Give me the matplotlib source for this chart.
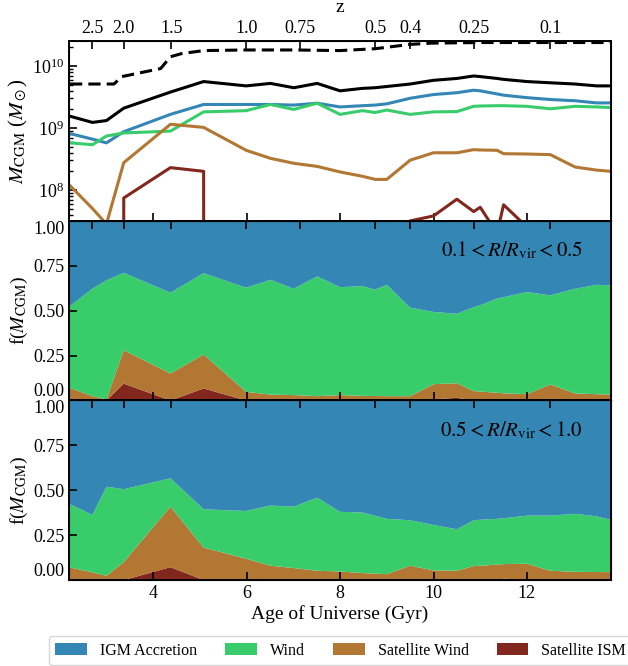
import matplotlib
matplotlib.use('Agg')
import matplotlib.pyplot as plt
from matplotlib.patches import Patch
import numpy as np

plt.rcParams['font.family'] = 'serif'
plt.rcParams['font.serif'] = ['Liberation Serif', 'DejaVu Serif']
plt.rcParams['mathtext.fontset'] = 'stix'

# snapshot ages (Gyr)
age = [2.22, 2.70, 3.00, 3.37, 4.37, 5.08, 5.99, 6.51, 7.01, 7.51, 8.00, 8.48, 8.75,
       9.00, 9.50, 10.00, 10.50, 10.86, 11.00, 11.36, 11.50, 12.00, 12.50, 13.03, 13.49, 13.80]

# top panel: log10 CGM mass (Msun), 0 = no gas
logm_total = [9.19, 9.09, 9.12, 9.32, 9.58, 9.75, 9.68, 9.72, 9.65, 9.72, 9.60, 9.64, 9.65,
              9.67, 9.71, 9.77, 9.80, 9.84, 9.83, 9.80, 9.785, 9.75, 9.73, 9.71, 9.68, 9.68]
logm_igm = [8.91, 8.82, 8.76, 8.94, 9.22, 9.38, 9.38, 9.38, 9.37, 9.40, 9.34, 9.36, 9.37,
            9.39, 9.48, 9.54, 9.57, 9.61, 9.60, 9.55, 9.53, 9.49, 9.46, 9.44, 9.405, 9.405]
logm_wind = [8.76, 8.73, 8.87, 8.92, 8.95, 9.26, 9.28, 9.38, 9.30, 9.40, 9.22, 9.28, 9.25,
             9.29, 9.22, 9.26, 9.265, 9.35, 9.355, 9.36, 9.36, 9.35, 9.31, 9.35, 9.34, 9.33]
logm_satwind = [8.07, 7.70, 7.45, 8.44, 9.06, 9.01, 8.64, 8.51, 8.43, 8.38, 8.29, 8.22, 8.17,
                8.17, 8.48, 8.60, 8.60, 8.65, 8.645, 8.64, 8.585, 8.58, 8.57, 8.37, 8.32, 8.30]
logm_satism = [0, 0, 0, 7.87, 8.36, 8.30, 0, 0, 0, 0, 0, 0, 0,
               0, 7.50, 7.58, 7.85, 7.65, 7.72, 7.30, 7.76, 7.40, 0, 0, 0, 0]

# dashed reference line
age_halo = [2.22, 3.16, 3.33, 4.16, 4.37, 4.60, 5.08, 6.00, 7.00, 8.00, 8.75, 9.50, 9.95, 11.0, 12.0, 13.8]
logm_halo = [9.71, 9.71, 9.83, 9.96, 10.15, 10.20, 10.25, 10.26, 10.26, 10.25, 10.28, 10.35, 10.37,
             10.38, 10.38, 10.38]

# fractions, 0.1 < R/Rvir < 0.5
in_ism = [0, 0, 0, 0.094, 0, 0.067, 0, 0, 0, 0, 0, 0, 0,
          0, 0, 0.006, 0.015, 0, 0, 0, 0, 0, 0, 0, 0, 0]
in_satwind = [0.070, 0.024, 0.006, 0.186, 0.150, 0.189, 0.048, 0.033, 0.030, 0.024, 0.030, 0.026, 0.025,
              0.024, 0.024, 0.085, 0.081, 0.052, 0.050, 0.043, 0.040, 0.035, 0.089, 0.039, 0.035, 0.033]
in_wind = [0.456, 0.598, 0.663, 0.431, 0.450, 0.453, 0.580, 0.639, 0.592, 0.667, 0.601, 0.611, 0.592,
           0.620, 0.493, 0.402, 0.387, 0.468, 0.480, 0.524, 0.535, 0.569, 0.496, 0.583, 0.609, 0.608]
in_igm = [0.474, 0.378, 0.331, 0.289, 0.400, 0.291, 0.372, 0.328, 0.378, 0.309, 0.369, 0.363, 0.383,
          0.356, 0.483, 0.507, 0.517, 0.480, 0.470, 0.433, 0.425, 0.396, 0.415, 0.378, 0.356, 0.359]

# fractions, 0.5 < R/Rvir < 1.0
out_ism = [0, 0, 0, 0, 0.072, 0, 0, 0, 0, 0, 0, 0, 0,
           0, 0, 0, 0, 0, 0, 0, 0.008, 0, 0, 0, 0, 0]
out_satwind = [0.070, 0.043, 0.024, 0.100, 0.337, 0.181, 0.119, 0.080, 0.067, 0.052, 0.048, 0.039, 0.036,
               0.033, 0.080, 0.054, 0.052, 0.078, 0.080, 0.086, 0.081, 0.091, 0.052, 0.046, 0.045, 0.044]
out_wind = [0.352, 0.320, 0.496, 0.406, 0.158, 0.213, 0.266, 0.335, 0.342, 0.407, 0.332, 0.337, 0.322,
            0.308, 0.253, 0.253, 0.231, 0.255, 0.256, 0.255, 0.255, 0.268, 0.307, 0.323, 0.310, 0.291]
out_igm = [0.578, 0.637, 0.480, 0.494, 0.433, 0.606, 0.615, 0.585, 0.591, 0.541, 0.620, 0.624, 0.642,
           0.659, 0.667, 0.693, 0.717, 0.667, 0.664, 0.659, 0.656, 0.641, 0.641, 0.631, 0.645, 0.665]

z_labels = ['2.5', '2.0', '1.5', '1.0', '0.75', '0.5', '0.4', '0.25', '0.1']
z_age = [2.70, 3.37, 4.385, 5.99, 7.15, 8.75, 9.50, 10.86, 12.50]

labels = ['IGM Accretion', 'Wind', 'Satellite Wind', 'Satellite ISM']
c_igm, c_wind, c_sw, c_ism = '#3487b5', '#39cc6b', '#b27733', '#82271e'

xlim = (2.2, 13.8)


def to_mass(logm):
    logm = np.array(logm, dtype=float)
    return np.where(logm > 0, 10**logm, 0.0)


def style(ax, top_labels=False, bottom_labels=False):
    ax.set_xlim(xlim)
    ax.set_xticks([4, 6, 8, 10, 12])
    ax.tick_params(which='major', direction='in', length=6, width=1.2, labelsize=13,
                   labelbottom=bottom_labels)
    ax.tick_params(which='minor', direction='in', length=3, width=1.0)
    for s in ax.spines.values():
        s.set_linewidth(1.4)
    axt = ax.twiny()
    axt.set_xlim(xlim)
    axt.set_xticks(z_age)
    axt.set_xticklabels(z_labels if top_labels else [])
    axt.tick_params(direction='in', length=6, width=1.2, labelsize=13, pad=3)
    return axt


fig, axes = plt.subplots(3, 1, figsize=(6.28, 6.66), dpi=100, sharex=False)
fig.subplots_adjust(left=0.110, right=0.973, top=0.938, bottom=0.129, hspace=0)

# top panel
ax = axes[0]
ax.set_yscale('log')
ax.plot(age_halo, to_mass(logm_halo), color='k', ls='--', lw=2.2, dashes=(4, 2))
ax.plot(age, to_mass(logm_total), color='k', lw=2.2)
ax.plot(age, to_mass(logm_igm), color=c_igm, lw=2.2)
ax.plot(age, to_mass(logm_wind), color=c_wind, lw=2.2)
ax.plot(age, to_mass(logm_satwind), color=c_sw, lw=2.2)
ax.plot(age, to_mass(logm_satism), color=c_ism, lw=2.2)
ax.set_ylim(10**7.5, 10**10.4)
ax.set_ylabel(r'$M_{\rm CGM}$ ($M_\odot$)', fontsize=15)
axt = style(ax, top_labels=True)
axt.set_xlabel('z', fontsize=14, labelpad=6)

# fraction panels
for ax, fr, txt in [(axes[1], (in_ism, in_satwind, in_wind, in_igm), r'$0.1 < R/R_{\rm vir} < 0.5$'),
                    (axes[2], (out_ism, out_satwind, out_wind, out_igm), r'$0.5 < R/R_{\rm vir} < 1.0$')]:
    ax.stackplot(age, *fr, colors=[c_ism, c_sw, c_wind, c_igm], lw=0)
    ax.set_ylim(0, 1)
    ax.set_yticks([0, 0.25, 0.5, 0.75, 1.0])
    ax.set_yticklabels(['0.00', '0.25', '0.50', '0.75', '1.00'])
    ticks = ax.get_yticklabels()
    ticks[0].set_verticalalignment('bottom')
    ticks[-1].set_verticalalignment('top')
    ax.set_ylabel(r'f($M_{\rm CGM}$)', fontsize=14)
    ax.text(0.948, 0.835, txt, transform=ax.transAxes, ha='right', va='center', fontsize=15)
    style(ax, bottom_labels=(ax is axes[2]))

axes[2].set_xlabel('Age of Universe (Gyr)', fontsize=14, labelpad=2)

for ax in axes:
    ax.yaxis.set_label_coords(-0.072, 0.5)

handles = [Patch(facecolor=c, edgecolor='none') for c in [c_igm, c_wind, c_sw, c_ism]]
fig.legend(handles, labels, loc='lower left', bbox_to_anchor=(49 / 628, 1 / 666), ncol=4,
           fontsize=11.5, columnspacing=1.75, handlelength=2.0, frameon=True, fancybox=True,
           borderaxespad=0)

fig.savefig('out.png', dpi=100)
